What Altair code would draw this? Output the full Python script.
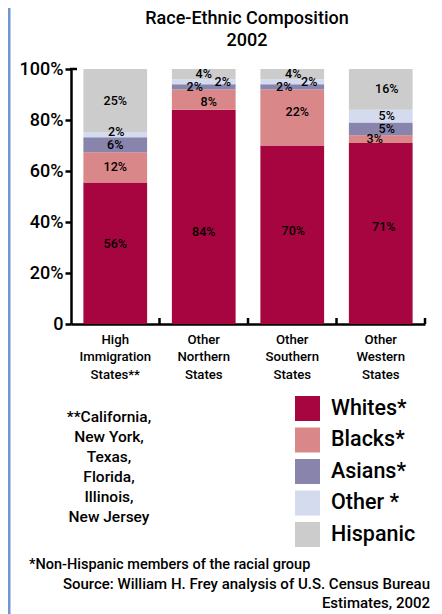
import altair as alt
import pandas as pd

# ---- data ----
states = ["High Immigration States**", "Other Northern States",
          "Other Southern States", "Other Western States"]
groups = ["Whites*", "Blacks*", "Asians*", "Other *", "Hispanic"]
whites = [56, 84, 70, 71]
blacks = [12, 8, 22, 3]
asians = [6, 2, 2, 5]
other = [2, 2, 2, 5]
hispanic = [25, 4, 4, 16]

# ---- style ----
colors = ["#A6053F", "#D98788", "#8984AC", "#D4DBEE", "#CCCCCC"]
# label nudges (percentage points in y, pixels in x), per group then per state
label_dy = [[3.5, -6, 1.5, 2.5], [0, -1, 2, 0], [0, 0, 0, 0], [1, 0, 0, 0], [0, 0, 0, 0]]
label_dx = [[0, 0, 1, 3], [0, 5, 5, -6], [0, -9, -8, 6], [1, 19, 17, 6], [0, 0, 1, 6]]
FONT = "Roboto"
W, H = 354, 255

series = [whites, blacks, asians, other, hispanic]
rows = []
for si, s in enumerate(states):
    total = sum(ser[si] for ser in series)
    cum = 0
    for gi, g in enumerate(groups):
        v = series[gi][si]
        mid = (cum + v / 2) / total
        cum += v
        rows.append(dict(state=s, group=g, gidx=gi, value=v, label=f"{v}%",
                         mid=mid + label_dy[gi][si] / 100, dx=label_dx[gi][si]))
df = pd.DataFrame(rows)

base = alt.Chart(df)

xenc = alt.X("state:N", sort=states,
             scale=alt.Scale(paddingInner=0.28, paddingOuter=0.14),
             axis=alt.Axis(title=None, ticks=False, domainColor="black", domainWidth=2.5,
                           labelExpr="split(datum.label, ' ')", labelAngle=0,
                           labelFont=FONT, labelFontSize=13.2, labelFontWeight=500,
                           labelColor="black", labelLineHeight=17.5, labelPadding=9,
                           labelBaseline="top"))

bars = base.mark_bar().encode(
    x=xenc,
    y=alt.Y("value:Q", stack="normalize", scale=alt.Scale(domain=[0, 1]),
            axis=alt.Axis(title=None, values=[0, 0.2, 0.4, 0.6, 0.8, 1.0],
                          labelExpr="datum.value == 0 ? '0' : format(datum.value, '.0%')",
                          grid=False, tickSize=6, tickWidth=2.5, tickColor="black",
                          domainColor="black", domainWidth=2.5, labelPadding=2,
                          labelFont=FONT, labelFontSize=18, labelFontWeight=500,
                          labelColor="black")),
    color=alt.Color("group:N", scale=alt.Scale(domain=groups, range=colors),
                    legend=alt.Legend(title=None, orient="none", legendX=224, legendY=327,
                                      symbolType="square", symbolSize=625,
                                      symbolStrokeWidth=0, symbolOpacity=1,
                                      labelFont=FONT, labelFontSize=21.5, labelFontWeight=500,
                                      labelColor="black", labelOffset=11, rowPadding=6.5,
                                      padding=0)),
    order=alt.Order("gidx:Q", sort="ascending"),
)

text_layers = []
for d in sorted(df["dx"].unique()):
    text_layers.append(
        base.transform_filter(alt.datum.dx == int(d)).mark_text(
            dx=int(d), font=FONT, fontSize=12.5, fontWeight=500, color="black",
            baseline="middle", align="center"
        ).encode(x=alt.X("state:N", sort=states), y=alt.Y("mid:Q"), text="label:N")
    )

# tick marks pointing up at the category boundaries
btick = base.transform_filter(alt.datum.gidx == 0).mark_rule(
    color="black", strokeWidth=2.5, xOffset=12.4
).encode(x=alt.X("state:N", sort=states, bandPosition=1),
         y=alt.value(H), y2=alt.value(H - 6))

one = alt.Data(values=[{}])
top_tick = alt.Chart(one).mark_rule(color="black", strokeWidth=2.5).encode(
    x=alt.value(-1), x2=alt.value(6), y=alt.value(0))
blue_line = alt.Chart(one).mark_rule(color="#7097D2", strokeWidth=3).encode(
    x=alt.value(-62), y=alt.value(-62), y2=alt.value(H + 300))

title1 = alt.Chart(one).mark_text(font=FONT, fontSize=18, fontWeight=500, color="black",
                                   align="center", baseline="alphabetic").encode(
    x=alt.value(176), y=alt.value(-45), text=alt.value("Race-Ethnic Composition"))
title2 = alt.Chart(one).mark_text(font=FONT, fontSize=18, fontWeight=500, color="black",
                                   align="center", baseline="alphabetic").encode(
    x=alt.value(176), y=alt.value(-23), text=alt.value("2002"))

foot_states = alt.Chart(one).mark_text(font=FONT, fontSize=15.5, fontWeight=500, color="black",
                                        align="center", baseline="alphabetic", lineHeight=20).encode(
    x=alt.value(38), y=alt.value(353),
    text=alt.value(["**California,", "New York,", "Texas,", "Florida,", "Illinois,", "New Jersey"]))

note1 = alt.Chart(one).mark_text(font=FONT, fontSize=14.5, fontWeight=500, color="black",
                                  align="left", baseline="alphabetic").encode(
    x=alt.value(-42), y=alt.value(500),
    text=alt.value("*Non-Hispanic members of the racial group"))
note2 = alt.Chart(one).mark_text(font=FONT, fontSize=15, fontWeight=500, color="black",
                                  align="right", baseline="alphabetic", lineHeight=19).encode(
    x=alt.value(359), y=alt.value(520),
    text=alt.value(["Source: William H. Frey analysis of U.S. Census Bureau", "Estimates, 2002"]))

chart = alt.layer(bars, *text_layers, btick, top_tick, blue_line, title1, title2,
                  foot_states, note1, note2).properties(
    width=W, height=H,
    autosize=alt.AutoSizeParams(type="none"),
    padding={"left": 63, "top": 61, "right": 9, "bottom": 290},
).configure_view(stroke=None)

chart.save("out.html", embed_options={"renderer": "svg", "actions": False})
